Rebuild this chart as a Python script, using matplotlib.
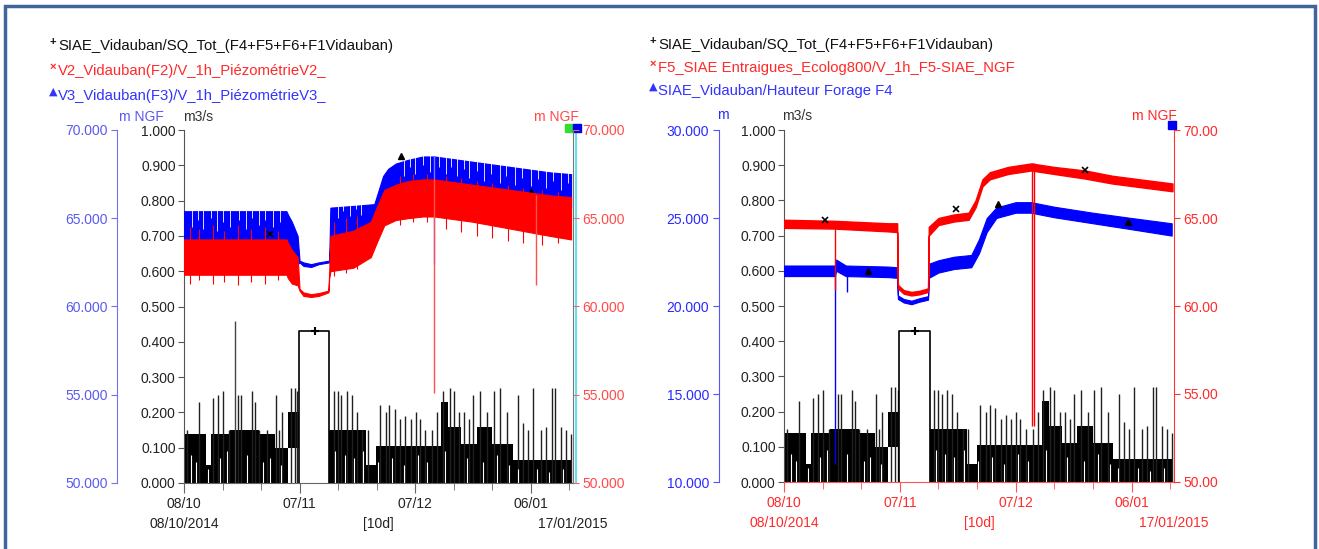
import matplotlib
matplotlib.use('Agg')
import matplotlib.pyplot as plt
from matplotlib.patches import Rectangle
from matplotlib.transforms import ScaledTranslation

plt.rcParams['font.family'] = ['Liberation Sans', 'DejaVu Sans']

W, H, DPI = 1319, 549, 100

# ---------------- axes / labels data ----------------
x_end = 101  # days from 08/10/2014 to 17/01/2015
x_major = [0, 30, 60, 90]
x_major_labels = ['08/10', '07/11', '07/12', '06/01']
x_minor = [10, 20, 40, 50, 70, 80, 100]
date_row = ['08/10/2014', '[10d]', '17/01/2015']

flow_ticks = [0.0, 0.1, 0.2, 0.3, 0.4, 0.5, 0.6, 0.7, 0.8, 0.9, 1.0]
left_blue_ticks = [50, 55, 60, 65, 70]
right_blue_ticks = [10, 15, 20, 25, 30]
red_ticks = [50, 55, 60, 65, 70]

left_names = ['SIAE_Vidauban/SQ_Tot_(F4+F5+F6+F1Vidauban)',
              'V2_Vidauban(F2)/V_1h_PiézométrieV2_',
              'V3_Vidauban(F3)/V_1h_PiézométrieV3_']
right_names = ['SIAE_Vidauban/SQ_Tot_(F4+F5+F6+F1Vidauban)',
               'F5_SIAE Entraigues_Ecolog800/V_1h_F5-SIAE_NGF',
               'SIAE_Vidauban/Hauteur Forage F4']

# ---------------- flow SQ_Tot (m3/s), shared by both panels ----------------
flow_start = [0, 5.6, 7, 12, 19.5, 23.6, 26.9, 29.8, 37.7, 47.3, 49.9, 66.7, 68.5, 72, 76, 80, 85.3]
flow_end = [5.6, 7, 12, 19.5, 23.6, 26.9, 29.8, 37.7, 47.3, 49.9, 66.7, 68.5, 72, 76, 80, 85.3, 100.8]
flow_top = [0.14, 0.05, 0.14, 0.15, 0.14, 0.10, 0.20, 0.43, 0.15, 0.05, 0.105, 0.23, 0.16, 0.11, 0.16, 0.11, 0.065]
flow_bot = [0, 0, 0, 0, 0, 0, 0.10, 0, 0, 0, 0, 0, 0, 0, 0, 0, 0]
flow_hollow = [False, False, False, False, False, False, False, True, False, False,
               False, False, False, False, False, False, False]
flow_spike_day = [0.9, 4.0, 7.4, 8.8, 10.0, 11.6, 13.9, 14.8, 17.6, 18.4, 19.5, 21.5, 23.9, 24.6,
                  25.5, 27.8, 28.7, 29.4, 38.9, 39.9, 40.8, 42.2, 43.6, 44.9, 46.3, 47.7, 50.8,
                  52.4, 53.3, 54.7, 56.1, 57.5, 58.9, 60.2, 61.2, 62.6, 64.4, 65.8, 67.2, 69.0,
                  70.0, 71.4, 72.8, 74.1, 75.1, 76.9, 78.8, 80.4, 82.0, 83.9, 86.7, 88.0, 89.4,
                  90.6, 92.7, 94.1, 95.6, 96.4, 97.8, 99.2, 100.6]
flow_spike_val = [0.15, 0.23, 0.24, 0.25, 0.26, 0.15, 0.25, 0.25, 0.26, 0.23, 0.15, 0.15, 0.25, 0.15,
                  0.20, 0.27, 0.27, 0.26, 0.26, 0.26, 0.25, 0.26, 0.25, 0.20, 0.15, 0.15, 0.22,
                  0.20, 0.22, 0.21, 0.18, 0.19, 0.18, 0.20, 0.18, 0.15, 0.15, 0.20, 0.26, 0.27,
                  0.26, 0.20, 0.20, 0.18, 0.25, 0.26, 0.20, 0.26, 0.27, 0.20, 0.25, 0.17, 0.15,
                  0.27, 0.15, 0.16, 0.27, 0.27, 0.16, 0.15, 0.14]
flow_gap_day = [1.8, 3.2, 6.2, 9.3, 11.2, 16.3, 20.6, 22.2, 25.2, 39.3, 41.8, 44.1, 46.6, 50.3,
                53.9, 57.1, 60.7, 63.1, 67.8, 73.4, 77.6, 81.2, 84.3, 86.6, 91.6, 94.8, 98.3]
flow_gap_val = [0.08, 0.06, 0.04, 0.07, 0.09, 0.08, 0.06, 0.07, 0.05, 0.09, 0.08, 0.07, 0.09, 0.06,
                0.07, 0.05, 0.08, 0.06, 0.09, 0.07, 0.06, 0.08, 0.05, 0.04, 0.04, 0.03, 0.04]
flow_marker_day = [34.0]
flow_marker_val = [0.43]
left_extra_spike_day = [13.2]
left_extra_spike_val = [0.46]

# ---------------- left panel: V3 (blue, m NGF) ----------------
v3_day = [0, 26.6, 27, 28, 29.5, 30, 31, 33, 35, 37.7, 38, 44, 49.4, 51.7, 53, 55, 58, 62, 65, 75, 85, 95, 100.5]
v3_top = [65.4, 65.4, 65.2, 64.8, 64.0, 62.6, 62.5, 62.4, 62.5, 62.6, 65.6, 65.7, 65.8, 67.4, 67.8, 68.1, 68.3, 68.5, 68.5, 68.2, 67.9, 67.6, 67.5]
v3_bot = [63.2, 63.2, 62.8, 62.4, 62.4, 62.5, 62.3, 62.24, 62.4, 62.5, 63.6, 63.8, 64.0, 65.4, 65.8, 66.0, 66.2, 66.4, 66.4, 66.2, 66.0, 65.8, 65.6]
v3_gap_day = [2, 3.6, 5, 6.9, 8.5, 10.1, 12, 14.2, 16, 17.7, 19.5, 21.1, 23, 24.8,
              40, 41.4, 43, 44.6, 46, 57, 58.6, 60, 62.1, 64, 66.3, 68, 69.4, 71, 72.7, 74,
              76.2, 78, 79.6, 82, 83.5, 86, 87.8, 90, 91.9, 94, 95.7, 98, 99.6]
v3_gap_low = [64.5, 64.9, 64.4, 65.0, 64.3, 64.8, 64.5, 64.9, 64.4, 65.0, 64.6, 64.9, 64.5, 64.8,
              65.0, 65.4, 65.1, 65.5, 65.2, 67.4, 67.9, 67.5, 68.0, 67.6, 67.9, 67.5, 67.9, 67.4,
              67.8, 67.3, 67.7, 67.1, 67.5, 67.0, 67.4, 66.9, 67.3, 66.8, 67.2, 66.7, 67.1, 66.6, 67.0]
v3_gap_high = [65.5, 65.5, 65.5, 65.5, 65.5, 65.5, 65.5, 65.5, 65.5, 65.5, 65.5, 65.5, 65.5, 65.5,
               65.9, 65.9, 65.9, 65.9, 65.9, 68.4, 68.5, 68.6, 68.6, 68.6, 68.6, 68.6, 68.5, 68.5,
               68.5, 68.4, 68.4, 68.3, 68.2, 68.1, 68.1, 68.0, 68.0, 67.9, 67.9, 67.8, 67.8, 67.7, 67.7]
v3_spike_day = [65.0]
v3_spike_low = [62.4]
v3_spike_high = [68.5]
v3_marker_day = [56.4, 90.2]
v3_marker_val = [68.5, 66.5]

# ---------------- left panel: V2 (red, m NGF) ----------------
v2_day = [0, 26.6, 27, 28, 29.5, 30, 31, 33, 35, 37.5, 37.7, 38, 44, 48.5, 50, 52, 55, 58, 62, 65, 75, 85, 95, 100.5]
v2_top = [63.8, 63.8, 63.6, 63.2, 62.8, 61.0, 60.8, 60.7, 60.76, 60.9, 62.0, 64.0, 64.3, 64.8, 65.6, 66.6, 66.9, 67.1, 67.2, 67.2, 66.9, 66.6, 66.3, 66.2]
v2_bot = [61.8, 61.8, 61.6, 61.3, 61.2, 60.9, 60.6, 60.54, 60.6, 60.8, 61.6, 62.0, 62.2, 62.8, 63.6, 64.6, 64.9, 65.0, 65.1, 65.1, 64.8, 64.4, 64.0, 63.8]
v2_tick_day = [1.5, 4.0, 7.5, 10.5, 14.0, 17.5, 21.0, 24.5, 39.0, 42.0, 45.0, 56.0, 59.5, 63.0,
               68.0, 72.0, 76.0, 80.0, 84.0, 88.0, 93.0, 97.0]
v2_tick_low = [61.3, 61.5, 61.3, 61.4, 61.2, 61.4, 61.3, 61.5, 61.7, 61.9, 62.1, 64.6, 64.8, 64.8,
               64.4, 64.2, 64.0, 63.9, 63.7, 63.6, 63.5, 63.6]
v2_tick_high = [64.5, 64.4, 64.6, 64.3, 64.6, 64.4, 64.5, 64.3, 64.8, 65.0, 65.1, 67.4, 67.5, 67.5,
                67.4, 67.3, 67.1, 67.0, 66.9, 66.7, 66.6, 66.5]
v2_spike_day = [65.0, 91.5]
v2_spike_low = [55.1, 61.2]
v2_spike_high = [67.2, 66.3]
v2_marker_day = [22.3]
v2_marker_val = [64.1]

# ---------------- right panel: F5 (red, m NGF) ----------------
f5_day = [0, 13, 27, 29.3, 29.5, 31, 33, 35, 37.3, 37.5, 40, 44, 47.8, 49.6, 51.4, 53.3, 58, 64, 70, 78, 85, 92, 100.6]
f5_top = [64.9, 64.84, 64.7, 64.7, 61.2, 60.9, 60.8, 60.86, 61.0, 64.5, 65.0, 65.2, 65.3, 66.0, 67.2, 67.6, 67.9, 68.1, 67.9, 67.7, 67.4, 67.2, 66.96]
f5_bot = [64.44, 64.4, 64.24, 64.2, 61.0, 60.7, 60.6, 60.66, 60.8, 64.0, 64.6, 64.8, 64.9, 65.6, 66.8, 67.2, 67.5, 67.7, 67.5, 67.24, 66.96, 66.76, 66.52]
f5_spike_day = [13.3, 64.2, 64.7]
f5_spike_low = [60.9, 53.2, 53.2]
f5_spike_high = [64.8, 68.1, 68.1]
f5_marker_day = [10.7, 44.5, 78.0]
f5_marker_val = [64.9, 65.5, 67.7]

# ---------------- right panel: F4 (blue, m) ----------------
f4_day = [0, 13.2, 13.5, 16, 27, 29.3, 29.5, 31, 33, 35, 37.3, 37.5, 40, 44, 48.5, 50.5, 52.5, 55, 60, 64, 70, 80, 90, 100.4]
f4_top = [22.3, 22.3, 22.64, 22.3, 22.24, 22.2, 20.6, 20.4, 20.3, 20.44, 20.56, 22.4, 22.6, 22.8, 22.9, 23.8, 25.0, 25.6, 25.9, 25.9, 25.64, 25.3, 25.0, 24.7]
f4_bot = [21.7, 21.7, 22.0, 21.7, 21.64, 21.6, 20.4, 20.2, 20.1, 20.24, 20.36, 21.6, 21.9, 22.1, 22.2, 23.0, 24.2, 25.0, 25.3, 25.3, 25.04, 24.7, 24.36, 24.0]
f4_spike_day = [13.3, 16.3]
f4_spike_low = [11.0, 20.8]
f4_spike_high = [22.3, 22.3]
f4_marker_day = [21.7, 55.5, 89.0]
f4_marker_val = [22.0, 25.8, 24.8]

# ---------------- drawing ----------------
fig = plt.figure(figsize=(W / DPI, H / DPI), dpi=DPI)
fig.patch.set_facecolor('white')


def px_rect(x0, x1, ytop, ybot):
    return [x0 / W, 1 - ybot / H, (x1 - x0) / W, (ybot - ytop) / H]


def fx(x):
    return x / W


def fy(y):
    return 1 - y / H


def make_panel(rect, blue_lim, blue_ticks, blue_fmt, red_fmt, blue_col, blue_spine,
               red_col, red_spine, right_spine, x_col, x_spine, blue_off):
    ax = fig.add_axes(rect)
    axb = ax.twinx()
    axr = ax.twinx()
    ax.set_xlim(0, x_end)
    ax.set_ylim(0, 1)
    ax.set_yticks(flow_ticks)
    ax.set_yticklabels([f'{v:.3f}' for v in flow_ticks])
    for s in ['top', 'right']:
        ax.spines[s].set_visible(False)
    ax.spines['left'].set_color('#555555')
    ax.spines['bottom'].set_color(x_spine)
    ax.tick_params(axis='y', direction='out', length=4, color='#555555', labelcolor='#222222',
                   labelsize=10, pad=2)
    ax.set_xticks(x_major)
    ax.set_xticklabels(x_major_labels)
    ax.set_xticks(x_minor, minor=True)
    ax.tick_params(axis='x', which='major', direction='out', length=7, color=x_spine,
                   labelcolor=x_col, labelsize=10, pad=3)
    ax.tick_params(axis='x', which='minor', direction='out', length=5, color=x_spine)
    for i, t in enumerate(date_row):
        ax.text(i * 0.5, -0.116, t, transform=ax.transAxes, ha='center', va='center',
                fontsize=10, color=x_col)

    # blue (second left) axis
    axb.set_ylim(*blue_lim)
    axb.yaxis.set_ticks_position('left')
    axb.yaxis.set_label_position('left')
    for s in ['top', 'bottom', 'right']:
        axb.spines[s].set_visible(False)
    axb.spines['left'].set_visible(True)
    axb.spines['left'].set_position(('outward', blue_off))
    axb.spines['left'].set_color(blue_spine)
    axb.set_yticks(blue_ticks)
    axb.set_yticklabels([blue_fmt.format(v) for v in blue_ticks])
    axb.tick_params(axis='y', direction='out', length=4, color=blue_spine, labelcolor=blue_col,
                    labelsize=10, pad=3)

    # red (right) axis
    axr.set_ylim(50, 70)
    for s in ['top', 'bottom', 'left']:
        axr.spines[s].set_visible(False)
    axr.spines['right'].set_color(right_spine)
    axr.set_yticks(red_ticks)
    axr.set_yticklabels([red_fmt.format(v) for v in red_ticks])
    axr.tick_params(axis='y', direction='out', length=4, color=red_spine, labelcolor=red_col,
                    labelsize=10, pad=3)
    return ax, axb, axr


def draw_flow(ax):
    for s, e, t, b, hol in zip(flow_start, flow_end, flow_top, flow_bot, flow_hollow):
        if hol:
            ax.plot([s, s, e, e], [0, t, t, 0], color='black', lw=1.2, zorder=3)
        else:
            ax.fill_between([s, e], [b, b], [t, t], color='black', lw=0, zorder=2)
    ax.vlines(flow_spike_day, 0, flow_spike_val, color='#202020', lw=1.0, zorder=2)
    ax.vlines(flow_gap_day, 0, flow_gap_val, color='white', lw=0.8, zorder=2)
    ax.plot(flow_marker_day, flow_marker_val, marker='+', color='black', ms=6, mew=1.5,
            ls='none', zorder=4)


def draw_band(ax, d, lo, hi, col, lw=0.8):
    ax.fill_between(d, lo, hi, color=col, lw=lw, edgecolor=col)


# ===== LEFT PANEL =====
axL, axLb, axLr = make_panel(px_rect(184, 573, 130, 483), (50, 70), left_blue_ticks, '{:.3f}',
                             '{:.3f}', '#5A5AEE', '#7070F0', '#FF4B4B', '#FF6060', '#777777',
                             '#222222', '#666666', 48)
draw_flow(axL)
axL.vlines(left_extra_spike_day, 0, left_extra_spike_val, color='#444444', lw=1.0)
draw_band(axLb, v3_day, v3_bot, v3_top, '#0000FF')
axLb.vlines(v3_gap_day, v3_gap_low, v3_gap_high, color='white', lw=0.6)
axLb.vlines(v3_spike_day, v3_spike_low, v3_spike_high, color='#7777FF', lw=1.0)
axLb.plot(v3_marker_day, v3_marker_val, marker='^', color='black', ms=4, ls='none', zorder=5)
draw_band(axLr, v2_day, v2_bot, v2_top, '#FF0000')
axLr.vlines(v2_tick_day, v2_tick_low, v2_tick_high, color='#FF0000', lw=0.8)
axLr.vlines(v2_spike_day, v2_spike_low, v2_spike_high, color='#FF5050', lw=1.0)
axLr.plot(v2_marker_day, v2_marker_val, marker='x', color='black', ms=4, mew=1.2, ls='none', zorder=5)
# cursor line and status squares
cyan_tr = axL.transAxes + ScaledTranslation(3 / DPI, 0, fig.dpi_scale_trans)
axL.plot([1, 1], [0, 1], transform=cyan_tr, color='#66E0EE', lw=1.5, clip_on=False)
axL.plot([0.99], [1.006], transform=axL.transAxes, marker='s', color='#33DD33', ms=6, clip_on=False)
axL.plot([1.01], [1.006], transform=axL.transAxes, marker='s', color='#0000EE', ms=6, clip_on=False)

# ===== RIGHT PANEL =====
axR, axRb, axRr = make_panel(px_rect(784, 1174, 130, 482), (10, 30), right_blue_ticks, '{:.3f}',
                             '{:.2f}', '#2A2AFF', '#5555FF', '#FF2A2A', '#FF3333', '#FF3333',
                             '#FF2A2A', '#FF5555', 47)
draw_flow(axR)
draw_band(axRb, f4_day, f4_bot, f4_top, '#0000FF')
axRb.vlines(f4_spike_day, f4_spike_low, f4_spike_high, color='#0000FF', lw=1.0)
axRb.plot(f4_marker_day, f4_marker_val, marker='^', color='black', ms=4, ls='none', zorder=5)
draw_band(axRr, f5_day, f5_bot, f5_top, '#FF0000', lw=1.0)
axRr.vlines(f5_spike_day, f5_spike_low, f5_spike_high, color='#FF0000', lw=1.0)
axRr.plot(f5_marker_day, f5_marker_val, marker='x', color='black', ms=4, mew=1.2, ls='none', zorder=5)
axR.plot([0.995], [1.015], transform=axR.transAxes, marker='s', color='#0000EE', ms=6, clip_on=False)

# ===== legends / unit labels =====
leg_cols = ['#111111', '#FF2A2A', '#3333FF']
leg_marks = ['+', '×', '▲']
leg_msize = [8, 8, 8]
leg_family = [['Liberation Sans'], ['Liberation Sans'], ['DejaVu Sans']]
for i, (name, c) in enumerate(zip(left_names, leg_cols)):
    y = 46 + 25 * i
    fig.text(fx(53), fy(y - 4), leg_marks[i], color=c, fontsize=leg_msize[i], ha='center',
             va='center', fontweight='bold', family=leg_family[i])
    fig.text(fx(58), fy(y), name, color=c, fontsize=10.7, ha='left', va='center')
for i, (name, c) in enumerate(zip(right_names, leg_cols)):
    y = 45 + 23 * i
    fig.text(fx(653), fy(y - 4), leg_marks[i], color=c, fontsize=leg_msize[i], ha='center',
             va='center', fontweight='bold', family=leg_family[i])
    fig.text(fx(658), fy(y), name, color=c, fontsize=10.7, ha='left', va='center')

fig.text(fx(141), fy(117), 'm NGF', color='#5A5AEE', fontsize=10, ha='center', va='center')
fig.text(fx(198), fy(117), 'm3/s', color='#333333', fontsize=10, ha='center', va='center')
fig.text(fx(556), fy(117), 'm NGF', color='#FF4B4B', fontsize=10, ha='center', va='center')
fig.text(fx(723), fy(115), 'm', color='#2A2AFF', fontsize=10, ha='center', va='center')
fig.text(fx(797), fy(116), 'm3/s', color='#333333', fontsize=10, ha='center', va='center')
fig.text(fx(1154), fy(116), 'm NGF', color='#FF2A2A', fontsize=10, ha='center', va='center')

# outer frame
fig.add_artist(Rectangle((fx(5), -0.05), fx(1310), fy(6) + 0.05, transform=fig.transFigure,
                         fill=False, edgecolor='#41659A', lw=2.5))

fig.savefig('out.png', dpi=DPI, facecolor='white')
